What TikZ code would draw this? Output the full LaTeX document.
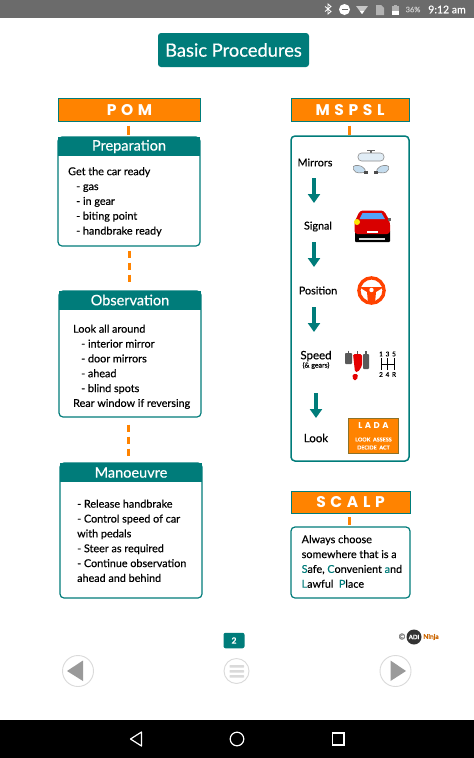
\documentclass[tikz,border=0pt]{standalone}
\usepackage{fontspec}
\setmainfont[RawFeature={embolden=0.35}]{Lato}
\newfontfamily\capsfont[LetterSpace=30]{Poppins}
\usetikzlibrary{arrows.meta}
\definecolor{tealc}{HTML}{007C7A}
\definecolor{orangec}{HTML}{FF8300}
\definecolor{navgrey}{HTML}{9A9A9A}
\definecolor{ringgrey}{HTML}{DADADA}
\definecolor{glassblue}{HTML}{C4DCEE}
\tikzset{
    titlebox/.style={fill=tealc, rounded corners=3pt, text=white, font=\fontsize{18.3}{20}\selectfont, inner sep=0pt},
    capsbox/.style={draw=tealc, line width=1pt, fill=orangec, text=white, inner sep=0pt, font=\capsfont\bfseries\fontsize{15.5}{17}\selectfont},
    headbox/.style={fill=tealc, text=white, inner sep=0pt, font=\fontsize{14.5}{16}\selectfont},
    panel/.style={draw=tealc, line width=1.2pt, rounded corners=4pt, fill=white, inner sep=0pt},
    bodytext/.style={anchor=north west, align=left, inner sep=0pt, font=\fontsize{10.8}{14.85}\selectfont},
    steptext/.style={inner sep=0pt, font=\fontsize{10.8}{12}\selectfont},
    link/.style={draw=orangec, line width=3pt},
    linkdash/.style={link, dash pattern=on 7.5pt off 4.5pt},
    downarrow/.style={draw=tealc, line width=4.2pt, -{Triangle[length=9pt, width=12pt]}},
    ladatext/.style={text=white, inner sep=0pt},
    barshape/.style={draw=white, line width=1.2pt},
}
\begin{document}
\begin{tikzpicture}[x=1pt, y=-1pt]
    \useasboundingbox (0,0) rectangle (474,758);
    \fill[white] (0,0) rectangle (474,758);

    % status bar
    \fill[black!58] (0,0) rectangle (474,18);
    \draw[white, line width=0.8pt] (325,6.5) -- (331,11.5) -- (328,14) -- (328,4) -- (331,6.5) -- (325,11.5);
    \fill[white] (344.5,9.5) circle (5.5);
    \fill[black!58] (341.5,8.8) rectangle (347.5,10.2);
    \fill[black!22] (356,6) -- (368,6) -- (362,14) -- cycle;
    \fill[white] (359.8,11) -- (364.2,11) -- (362,14) -- cycle;
    \fill[black!30] (376,5) -- (381,5) -- (384,8) -- (384,15) -- (376,15) -- cycle;
    \fill[black!30] (392,6) rectangle (399,15);
    \fill[white] (392,11) rectangle (399,15);
    \fill[black!30] (394,4.5) rectangle (397,6);
    \node[text=black!20, inner sep=0pt, font=\fontsize{7.5}{8}\selectfont] (batt) at (413,9.5) {36\%};
    \node[text=white, inner sep=0pt, font=\fontsize{10.5}{12}\selectfont] (clock) at (447,9.5) {9:12 am};

    % title
    \node[titlebox, minimum width=151pt, minimum height=34pt] (title) at (233.5,50) {Basic Procedures};

    % left column
    \node[capsbox, minimum width=142pt, minimum height=23pt] (pom) at (129.5,110) {POM};
    \node[panel, minimum width=142pt, minimum height=109pt] (prep) at (129,191.5) {};
    \node[headbox, minimum width=142pt, minimum height=19pt] (prephead) at (129,146.5) {Preparation};
    \node[bodytext] (prepbody) at (68,167) {Get the car ready\\\hspace{8pt}- gas\\\hspace{8pt}- in gear\\\hspace{8pt}- biting point\\\hspace{8pt}- handbrake ready};

    \node[panel, minimum width=142pt, minimum height=126pt] (obs) at (130,354) {};
    \node[headbox, minimum width=142pt, minimum height=19pt] (obshead) at (130,300) {Observation};
    \node[bodytext] (obsbody) at (73,324.5) {Look all around\\\hspace{8pt}- interior mirror\\\hspace{8pt}- door mirrors\\\hspace{8pt}- ahead\\\hspace{8pt}- blind spots\\Rear window if reversing};

    \node[panel, minimum width=142pt, minimum height=135pt] (man) at (131,530.5) {};
    \node[headbox, minimum width=142pt, minimum height=19pt] (manhead) at (131,472.5) {Manoeuvre};
    \node[bodytext] (manbody) at (77,499.5) {- Release handbrake\\- Control speed of car\\with pedals\\- Steer as required\\- Continue observation\\ahead and behind};

    \draw[link] ([xshift=-1pt]pom.south) ++(0,3.5) -- ++(0,9);
    \draw[linkdash] ([xshift=-0.0pt]prep.south) ++(0,4) -- ++(0,34);
    \draw[linkdash] ([xshift=-1.5pt]obs.south) ++(0,7) -- ++(0,34);

    % right column
    \node[capsbox, minimum width=118pt, minimum height=23pt] (mspsl) at (350,110) {MSPSL};
    \node[panel, line width=1.5pt, minimum width=118pt, minimum height=325pt] (steps) at (350,298.5) {};
    \draw[link] ([xshift=-1pt]mspsl.south) ++(0,3.5) -- ++(0,9);

    \node[steptext] (mirrors) at (315,162.5) {Mirrors};
    \node[steptext] (signal) at (318,226.5) {Signal};
    \node[steptext] (position) at (318,290.5) {Position};
    \node[steptext, font=\fontsize{11.5}{12}\selectfont] (speed) at (316,356) {Speed};
    \node[inner sep=0pt, font=\fontsize{7}{8}\selectfont] (gears) at (316,365.5) {(\& gears)};
    \node[steptext, font=\fontsize{11.5}{12}\selectfont] (look) at (316,438) {Look};

    \coordinate (arrowa) at (314,178);
    \coordinate (arrowb) at (314,203);
    \coordinate (arrowc) at (314,242);
    \coordinate (arrowd) at (314,267);
    \coordinate (arrowe) at (314,307);
    \coordinate (arrowf) at (314,332);
    \coordinate (arrowg) at (316,393);
    \coordinate (arrowh) at (316,418);
    \draw[downarrow] (arrowa) -- (arrowb);
    \draw[downarrow] (arrowc) -- (arrowd);
    \draw[downarrow] (arrowe) -- (arrowf);
    \draw[downarrow] (arrowg) -- (arrowh);

    % mirrors icon
    \draw[black!60, line width=1.2pt] (371,150) -- (371,153);
    \draw[black!60, line width=1.2pt] (367,150.5) -- (375,150.5);
    \draw[black!45, fill=glassblue!50!white, line width=0.6pt, rounded corners=3.5pt] (358,153) rectangle (384,161);
    \draw[black!45, fill=glassblue, line width=0.6pt, rounded corners=3.5pt] (352,165.5) -- (362,165.5) -- (367,172.5) -- (355,173) -- cycle;
    \draw[black!45, fill=glassblue, line width=0.6pt, rounded corners=3.5pt] (390,165.5) -- (380,165.5) -- (375,172.5) -- (387,173) -- cycle;
    \fill[black!70] (364,171) rectangle (368,173.5);
    \fill[black!70] (374,171) rectangle (378,173.5);

    % car icon
    \fill[black, rounded corners=1pt] (355,230) rectangle (390,242);
    \fill[red!85!black, rounded corners=3pt] (354.5,234) -- (354.5,222) -- (360,210.5) -- (384,210.5) -- (390,222) -- (390,234) -- cycle;
    \fill[glassblue!60!cyan!70!blue] (359.5,219) -- (362.5,213) -- (381.5,213) -- (385,219) -- cycle;
    \fill[white!85!black] (359,237.5) rectangle (385,240);
    \fill[white] (367,230.5) rectangle (378,233);
    \fill[yellow!90!orange] (357,222) circle (3);
    \fill[black!60] (388,218) rectangle (391,221);

    % steering wheel icon
    \draw[orangec!50!red, line width=3.4pt] (371.5,290.5) circle (12.6);
    \fill[orangec!50!red] (359,287) -- (384,287) -- (376,292) -- (375,303) -- (368,303) -- (367,292) -- cycle;
    \fill[white] (371.5,290) circle (2.2);

    % pedals and gears icon
    \fill[black!65, rounded corners=0.8pt] (345,353) rectangle (352,364);
    \fill[black!65, rounded corners=0.8pt] (363,354) rectangle (369,369);
    \draw[black!65, line width=1.2pt] (348.5,350.5) -- (348.5,353) (366,351) -- (366,354) (357.5,351) -- (357.5,354);
    \fill[red!90!black, rounded corners=1.5pt] (353,354) -- (362,354) -- (362,366) -- (358,372) -- (355,372) -- cycle;
    \fill[red!90!black, rounded corners=1.5pt] (352.5,374) -- (358,374) -- (357,380) -- (353,380) -- cycle;
    \draw[black, line width=0.9pt] (381,358) -- (381,370) (387.5,358) -- (387.5,370) (394,358) -- (394,370) (381,364) -- (394,364);
    \foreach \gearx/\gearup/\geardown in {381/1/2, 387.5/3/4, 394/5/R}
        \node[inner sep=0pt, font=\fontsize{6.5}{7}\selectfont] at (\gearx,354) {\gearup};
    \foreach \gearx/\gearup/\geardown in {381/1/2, 387.5/3/4, 394/5/R}
        \node[inner sep=0pt, font=\fontsize{6.5}{7}\selectfont] at (\gearx,374.5) {\geardown};

    % lada card
    \node[draw=black!25!tealc!45!orangec, line width=0.7pt, fill=orangec, minimum width=50pt, minimum height=35pt, inner sep=0pt] (lada) at (373.5,435.5) {};
    \node[ladatext, font=\capsfont\bfseries\fontsize{8.5}{9}\selectfont] (ladahead) at (373.5,426) {LADA};
    \node[ladatext, font=\bfseries\fontsize{5.4}{6}\selectfont] (ladaa) at (373.5,439.5) {LOOK\ \ ASSESS};
    \node[ladatext, font=\bfseries\fontsize{5.4}{6}\selectfont] (ladab) at (373.5,447.5) {DECIDE\ \ ACT};

    % scalp
    \node[capsbox, minimum width=119pt, minimum height=22pt] (scalp) at (350.5,502) {SCALP};
    \node[panel, minimum width=119pt, minimum height=71pt] (safe) at (350.5,562.5) {};
    \node[bodytext] (safebody) at (301.5,535) {Always choose\\somewhere that is a\\\textcolor{tealc}{S}afe, \textcolor{tealc}{C}onvenient \textcolor{tealc}{a}nd\\\textcolor{tealc}{L}awful\ \ \textcolor{tealc}{P}lace};
    \draw[link] ([xshift=-1pt]scalp.south) ++(0,3.5) -- ++(0,8);

    % credit
    \node[text=black!55, inner sep=0pt, font=\fontsize{8}{9}\selectfont] (copyr) at (402,636.5) {©};
    \node[circle, fill=black!80, text=white, minimum size=15pt, inner sep=0pt, font=\bfseries\fontsize{6}{7}\selectfont] (adi) at (414,637) {ADI};
    \node[text=orange!80!black, inner sep=0pt, font=\bfseries\fontsize{6.5}{7}\selectfont] (ninja) at (431,637) {Ninja};

    % page number and navigation
    \node[fill=tealc, rounded corners=2pt, minimum width=21pt, minimum height=15.5pt, inner sep=0pt, text=white, font=\bfseries\fontsize{8.5}{10}\selectfont] (page) at (234,640.5) {2};
    \draw[ringgrey, line width=0.9pt, fill=white] (78,671) circle (15.5);
    \fill[navgrey] (67,671) -- (83,660.5) -- (83,681) -- cycle;
    \draw[ringgrey, line width=0.9pt, fill=white] (395.5,671) circle (15.5);
    \fill[navgrey] (406,671) -- (390.5,660.5) -- (390.5,681) -- cycle;
    \draw[ringgrey, line width=0.9pt, fill=white] (236.5,671) circle (12.5);
    \fill[ringgrey, rounded corners=0.5pt] (229.5,665) rectangle (244,667.5);
    \fill[ringgrey, rounded corners=0.5pt] (229.5,670) rectangle (244,672.5);
    \fill[ringgrey, rounded corners=0.5pt] (229.5,675) rectangle (244,677.5);

    % android bar
    \fill[black] (0,720) rectangle (474,758);
    \draw[barshape, line join=round] (141.5,732) -- (130.5,739) -- (141.5,746) -- cycle;
    \draw[barshape] (237,739) circle (6.8);
    \draw[barshape] (332.5,733) rectangle (344,745);
\end{tikzpicture}
\end{document}
